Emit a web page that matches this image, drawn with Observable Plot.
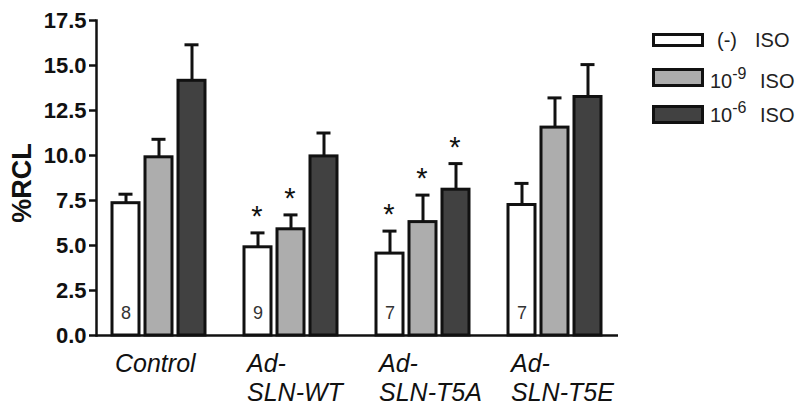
<!DOCTYPE html>
<html>
<head>
<meta charset="utf-8">
<script src="https://cdn.jsdelivr.net/npm/d3@7"></script>
<script src="https://cdn.jsdelivr.net/npm/@observablehq/plot@0.6"></script>
<style>
  html, body { margin: 0; padding: 0; background: #fff; }
  #wrap { position: relative; width: 800px; height: 412px; font-family: "Liberation Sans", Arial, sans-serif; }
  #chart svg { display: block; }
  .leg { position: absolute; font-size: 20px; color: #222; line-height: 1; white-space: pre; }
  .box { position: absolute; box-sizing: border-box; border: 3px solid #111; width: 52px; }
  sup { font-size: 16px; vertical-align: 9px; line-height: 0; }
</style>
</head>
<body>
<div id="wrap">
  <div id="chart"></div>
  <div id="legend"></div>
</div>
<script>
// ---- data ----
const categories = ["Control", "Ad-\nSLN-WT", "Ad-\nSLN-T5A", "Ad-\nSLN-T5E"];
const seriesNames = ["(-) ISO", "10-9 ISO", "10-6 ISO"];
const seriesColors = ["#ffffff", "#adadad", "#414141"];

const meanNone = [7.35, 4.9, 4.55, 7.25];
const mean9    = [9.9, 5.9, 6.3, 11.55];
const mean6    = [14.15, 9.95, 8.1, 13.25];

const semNone  = [0.5, 0.8, 1.25, 1.2];
const sem9     = [1.0, 0.8, 1.5, 1.65];
const sem6     = [2.0, 1.3, 1.45, 1.8];

const sigNone  = [false, true, true, false];
const sig9     = [false, true, true, false];
const sig6     = [false, false, true, false];

const nLabels  = ["8", "9", "7", "7"];
const yTicks   = [0, 2.5, 5, 7.5, 10, 12.5, 15, 17.5];

// ---- table built from the arrays ----
const means = [meanNone, mean9, mean6];
const sems = [semNone, sem9, sem6];
const sigs = [sigNone, sig9, sig6];
const rows = [];
categories.forEach((c, i) => {
  seriesNames.forEach((s, j) => {
    rows.push({
      key: `${i}-${j}`, cat: c, series: s,
      mean: means[j][i], top: means[j][i] + sems[j][i], sig: sigs[j][i]
    });
  });
});
// band domain with a spacer slot between groups
const xDomain = [];
categories.forEach((c, i) => {
  seriesNames.forEach((s, j) => xDomain.push(`${i}-${j}`));
  if (i < categories.length - 1) xDomain.push(`gap${i}`);
});
const catRows = categories.map((c, i) => ({key: `${i}-1`, label: c}));
const nRows = categories.map((c, i) => ({key: `${i}-0`, n: nLabels[i]}));

const chart = Plot.plot({
  width: 800,
  height: 412,
  marginLeft: 96,
  marginRight: 182,
  marginTop: 20,
  marginBottom: 77,
  style: {fontFamily: "'Liberation Sans', Arial, sans-serif", background: "#fff", color: "#111"},
  x: {domain: xDomain, paddingInner: 0.18, paddingOuter: 0.36, axis: null},
  y: {domain: [0, 17.5], label: null},
  color: {domain: seriesNames, range: seriesColors},
  marks: [
    Plot.barY(rows, {x: "key", y: "mean", fill: "series", stroke: "#111", strokeWidth: 3}),
    Plot.ruleX(rows, {x: "key", y1: "mean", y2: "top", stroke: "#111", strokeWidth: 3}),
    Plot.tickY(rows, {x: "key", y: "top", stroke: "#111", strokeWidth: 3, inset: 6.5}),
    Plot.text(rows.filter(d => d.sig), {x: "key", y: "top", text: () => "*", dx: -1, dy: -16, fontSize: 29, fill: "#111"}),
    Plot.text(nRows, {x: "key", y: () => 0, text: "n", dy: -22, fontSize: 18, fill: "#333"}),
    Plot.text(catRows, {x: "key", y: () => 0, text: "label", textAnchor: "start", lineAnchor: "top", dx: -44, dy: 16, fontSize: 25, fontStyle: "italic", lineHeight: 1.16, fill: "#111"}),
    Plot.axisY(yTicks, {tickFormat: d => d.toFixed(1), tickSize: 7, tickPadding: 3, fontSize: 22, fontWeight: "bold", strokeWidth: 2.5, stroke: "#111", fill: "#111", label: null}),
    Plot.frame({anchor: "left", stroke: "#111", strokeWidth: 2.5}),
    Plot.ruleY([0], {stroke: "#111", strokeWidth: 2.5}),
    Plot.text(["%RCL"], {frameAnchor: "left", textAnchor: "middle", dx: -74, dy: 5, rotate: -90, fontSize: 27, fontWeight: "bold", fill: "#111"})
  ]
});
document.getElementById("chart").appendChild(chart);

// ---- legend (HTML) ----
const legend = document.getElementById("legend");
const legBoxes = [{top: 33, h: 14}, {top: 68, h: 19}, {top: 105, h: 19}];
const legTexts = [
  {pre: "(-)", preLeft: 717, isoLeft: 755, top: 30},
  {pre: "10<sup>-9</sup>", preLeft: 710, isoLeft: 760, top: 71},
  {pre: "10<sup>-6</sup>", preLeft: 710, isoLeft: 760, top: 105}
];
seriesNames.forEach((s, j) => {
  const b = document.createElement("div");
  b.className = "box";
  b.style.left = "652px";
  b.style.top = legBoxes[j].top + "px";
  b.style.height = legBoxes[j].h + "px";
  b.style.background = seriesColors[j];
  legend.appendChild(b);
  const t = document.createElement("div");
  t.className = "leg";
  t.style.left = legTexts[j].preLeft + "px";
  t.style.top = legTexts[j].top + "px";
  t.innerHTML = legTexts[j].pre;
  legend.appendChild(t);
  const iso = document.createElement("div");
  iso.className = "leg";
  iso.style.left = legTexts[j].isoLeft + "px";
  iso.style.top = legTexts[j].top + "px";
  iso.textContent = "ISO";
  legend.appendChild(iso);
});
</script>
</body>
</html>
